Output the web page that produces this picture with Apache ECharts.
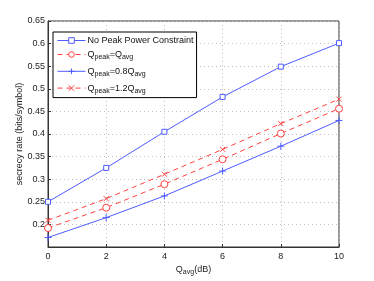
<!DOCTYPE html>
<html><head><meta charset="utf-8">
<script src="https://cdn.jsdelivr.net/npm/echarts@6/dist/echarts.min.js"></script>
<style>html,body{margin:0;padding:0;background:#fff}#c{width:374px;height:281px}</style>
</head><body><div id="c"></div>
<script>
const xValues = [0, 2, 4, 6, 8, 10];
const noPeak = [0.25, 0.325, 0.405, 0.482, 0.549, 0.601];
const peakEqAvg = [0.192, 0.237, 0.289, 0.344, 0.401, 0.456];
const peak08 = [0.171, 0.215, 0.263, 0.318, 0.373, 0.430];
const peak12 = [0.209, 0.257, 0.311, 0.366, 0.423, 0.477];
const names = ['No Peak Power Constraint', 'Qpeak=Qavg', 'Qpeak=0.8Qavg', 'Qpeak=1.2Qavg'];

const BLUE = '#4f5cff', RED = '#ff4040';
const FONT = 'Liberation Sans';
const pair = a => xValues.map((x, i) => [x, a[i]]);
const plusPath = 'path://M0,-5L0,5M-5,0L5,0';
const crossPath = 'path://M-4,-4L4,4M-4,4L4,-4';

function mk(name, data, color, dashed, symbol, size) {
  return {
    name, type: 'line', data: pair(data), symbol, symbolSize: size,
    showSymbol: true,
    lineStyle: { color, width: 1, type: dashed ? [5, 4] : 'solid' },
    itemStyle: { color: symbol.startsWith('path') ? 'none' : '#fff', borderColor: color, borderWidth: 1 },
    emphasis: { disabled: true }, animation: false
  };
}

const chart = echarts.init(document.getElementById('c'), null, { renderer: 'canvas' });
chart.setOption({
  animation: false,
  textStyle: { fontFamily: FONT },
  grid: { left: 48, right: 35, top: 21, bottom: 32, show: true, borderColor: '#333', borderWidth: 1, backgroundColor: 'transparent' },
  legend: {
    orient: 'vertical', left: 53, top: 32, width: 142,
    data: names,
    backgroundColor: '#fff', borderColor: '#000', borderWidth: 1,
    padding: [4, 3, 3, 4], itemGap: 5, itemWidth: 28, itemHeight: 7,
    lineStyle: { width: 1 },
    itemStyle: { borderWidth: 1 },
    textStyle: {
      fontFamily: FONT, fontSize: 9, color: '#111', padding: [0, 0, 0, -3],
      rich: {
        n: { fontFamily: FONT, fontSize: 9, color: '#111' },
        s: { fontFamily: FONT, fontSize: 7, color: '#111', padding: [6, 0, 0, 0] }
      }
    },
    formatter: function (n) {
      if (n === names[0]) return '{n|' + n + '}';
      const m = n.match(/^Qpeak=(.*)Qavg$/);
      return '{n|Q}{s|peak}{n|=' + m[1] + 'Q}{s|avg}';
    }
  },
  xAxis: {
    type: 'value', min: 0, max: 10, interval: 2,
    name: '{n|Q}{s|avg}{n|(dB)}', nameLocation: 'middle', nameGap: 16,
    nameMoveOverlap: false,
    nameTextStyle: { rich: {
      n: { fontFamily: FONT, fontSize: 9, color: '#222' },
      s: { fontFamily: FONT, fontSize: 7, color: '#222', padding: [6, 0, 0, 0] }
    } },
    axisLine: { show: true, lineStyle: { color: '#333', width: 1 } },
    axisTick: { show: true, inside: true, length: 3, lineStyle: { color: '#333' } },
    axisLabel: { fontFamily: FONT, fontSize: 9, color: '#222', margin: 5 },
    splitLine: { show: true, lineStyle: { color: '#bdbdbd', type: [1, 3], width: 1 } }
  },
  yAxis: {
    type: 'value', min: 0.15, max: 0.65, interval: 0.05,
    name: 'secrecy rate (bits/symbol)', nameLocation: 'middle', nameGap: 24,
    nameMoveOverlap: false,
    nameTextStyle: { fontFamily: FONT, fontSize: 9, color: '#222' },
    axisLine: { show: true, lineStyle: { color: '#333', width: 1 } },
    axisTick: { show: true, inside: true, length: 3, lineStyle: { color: '#333' } },
    axisLabel: {
      fontFamily: FONT, fontSize: 9, color: '#222', margin: 3, showMinLabel: false,
      formatter: v => (Math.round(v * 100) / 100).toString()
    },
    splitLine: { show: true, lineStyle: { color: '#bdbdbd', type: [1, 3], width: 1 } }
  },
  series: [
    mk(names[0], noPeak, BLUE, false, 'rect', 5),
    mk(names[1], peakEqAvg, RED, true, 'circle', 7),
    mk(names[2], peak08, BLUE, false, plusPath, 7),
    mk(names[3], peak12, RED, true, crossPath, 5)
  ]
});
</script></body></html>
